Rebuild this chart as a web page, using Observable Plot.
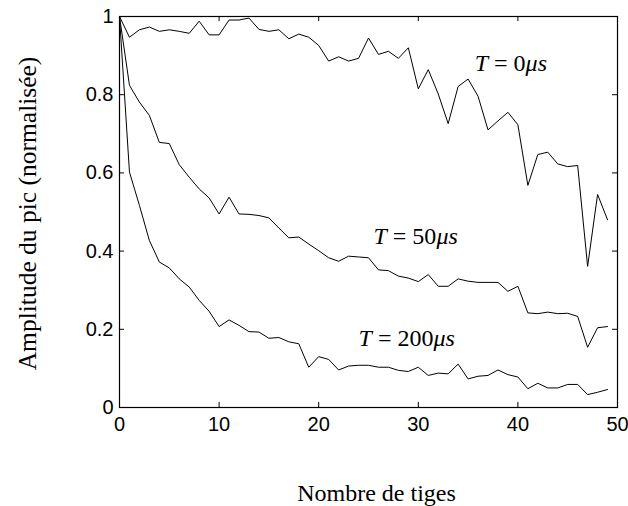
<!DOCTYPE html>
<html>
<head>
<meta charset="utf-8">
<script src="https://cdn.jsdelivr.net/npm/d3@7"></script>
<script src="https://cdn.jsdelivr.net/npm/@observablehq/plot@0.6"></script>
<style>
  body { margin: 0; background: #fff; }
</style>
</head>
<body>
<div id="chart"></div>
<script>
// Nombre de tiges (x)
const nTiges = [0,1,2,3,4,5,6,7,8,9,10,11,12,13,14,15,16,17,18,19,20,21,22,23,24,25,26,27,28,29,30,31,32,33,34,35,36,37,38,39,40,41,42,43,44,45,46,47,48,49];

// Amplitude du pic (normalisée) for each delay T
const ampT0 = [1.0, 0.947, 0.966, 0.973, 0.962, 0.966, 0.962, 0.957, 0.988, 0.953,
               0.953, 0.991, 0.991, 0.996, 0.967, 0.962, 0.966, 0.943, 0.955, 0.947,
               0.926, 0.886, 0.897, 0.886, 0.893, 0.945, 0.903, 0.911, 0.893, 0.920,
               0.815, 0.864, 0.802, 0.726, 0.821, 0.840, 0.796, 0.710, 0.733, 0.755,
               0.723, 0.568, 0.647, 0.653, 0.623, 0.616, 0.619, 0.361, 0.545, 0.480];
const ampT50 = [1.0, 0.824, 0.781, 0.747, 0.678, 0.675, 0.621, 0.589, 0.559, 0.536,
                0.495, 0.538, 0.495, 0.494, 0.491, 0.485, 0.459, 0.434, 0.436, 0.418,
                0.401, 0.383, 0.374, 0.387, 0.385, 0.383, 0.352, 0.350, 0.336, 0.331,
                0.322, 0.340, 0.310, 0.310, 0.329, 0.323, 0.320, 0.320, 0.320, 0.297,
                0.310, 0.242, 0.240, 0.244, 0.240, 0.241, 0.233, 0.154, 0.204, 0.207];
const ampT200 = [1.0, 0.602, 0.517, 0.427, 0.372, 0.357, 0.329, 0.308, 0.274, 0.246,
                 0.207, 0.224, 0.210, 0.194, 0.193, 0.177, 0.179, 0.168, 0.163, 0.103,
                 0.130, 0.123, 0.096, 0.106, 0.108, 0.108, 0.103, 0.103, 0.095, 0.092,
                 0.103, 0.082, 0.088, 0.086, 0.111, 0.073, 0.080, 0.082, 0.096, 0.084,
                 0.078, 0.048, 0.062, 0.050, 0.050, 0.059, 0.059, 0.033, 0.039, 0.046];

// Curve annotations
const labelDelays = ["0", "50", "200"];
const labelX = [35.66, 25.5, 24.0];
const labelY = [0.881, 0.438, 0.1775];

// Axis ticks and titles
const xTicks = [0, 10, 20, 30, 40, 50];
const yTicks = [0, 0.2, 0.4, 0.6, 0.8, 1];
const xTitle = "Nombre de tiges";
const yTitle = "Amplitude du pic (normalisée)";

const series = [ampT0, ampT50, ampT200];
const lineData = series.flatMap((vals, s) => vals.map((v, i) => ({n: nTiges[i], a: v, s})));
const labels = labelDelays.map((d, i) => ({x: labelX[i], y: labelY[i], t: "T = " + d + "μs"}));

const serif = "'Liberation Serif', 'Times New Roman', serif";
const sans = "'Liberation Sans', Arial, sans-serif";

const chart = Plot.plot({
  width: 628,
  height: 506,
  marginLeft: 119,
  marginRight: 11,
  marginTop: 16,
  marginBottom: 99,
  x: {domain: [0, 50]},
  y: {domain: [0, 1]},
  style: {fontFamily: sans, fontSize: "20px", background: "white", color: "black"},
  marks: [
    Plot.line(lineData, {x: "n", y: "a", z: "s", stroke: "black", strokeWidth: 1}),
    // inward ticks (bottom/top/left/right)
    Plot.ruleX(xTicks, {x: d => d, y1: 0, y2: 0.013, stroke: "black"}),
    Plot.ruleX(xTicks, {x: d => d, y1: 0.987, y2: 1, stroke: "black"}),
    Plot.ruleY(yTicks, {y: d => d, x1: 0, x2: 0.5, stroke: "black"}),
    Plot.ruleY(yTicks, {y: d => d, x1: 49.5, x2: 50, stroke: "black"}),
    Plot.frame({stroke: "black", strokeWidth: 1.2}),
    Plot.axisX(xTicks, {tickSize: 0, tickPadding: 9, label: null, fontSize: 20, fontFamily: sans}),
    Plot.axisY(yTicks, {tickSize: 0, tickPadding: 6, label: null, fontSize: 20, fontFamily: sans, tickFormat: d => String(d)}),
    Plot.text(labels, {x: "x", y: "y", text: "t", textAnchor: "start", lineAnchor: "middle", fontFamily: serif, fontSize: 24, fill: "black"}),
    Plot.text([xTitle], {text: d => d, frameAnchor: "bottom", textAnchor: "middle", lineAnchor: "middle", dx: 8, dy: 86, fontFamily: serif, fontSize: 24, fill: "black"}),
    Plot.text([yTitle], {text: d => d, frameAnchor: "left", textAnchor: "middle", lineAnchor: "middle", rotate: -90, dx: -92, dy: 1.5, fontFamily: serif, fontSize: 25.5, fill: "black"})
  ]
});

// Typeset the curve labels: italic T and μs, upright "= value"
chart.querySelectorAll("text").forEach(t => {
  const s = t.textContent;
  const m = /^T = (\d+)μs$/.exec(s);
  if (!m) return;
  while (t.firstChild) t.removeChild(t.firstChild);
  const ns = "http://www.w3.org/2000/svg";
  const a = document.createElementNS(ns, "tspan");
  a.setAttribute("font-style", "italic");
  a.textContent = "T";
  const b = document.createElementNS(ns, "tspan");
  b.textContent = " = " + m[1];
  const c = document.createElementNS(ns, "tspan");
  c.setAttribute("font-style", "italic");
  c.textContent = "μs";
  t.appendChild(a); t.appendChild(b); t.appendChild(c);
});

document.getElementById("chart").appendChild(chart);
</script>
</body>
</html>
